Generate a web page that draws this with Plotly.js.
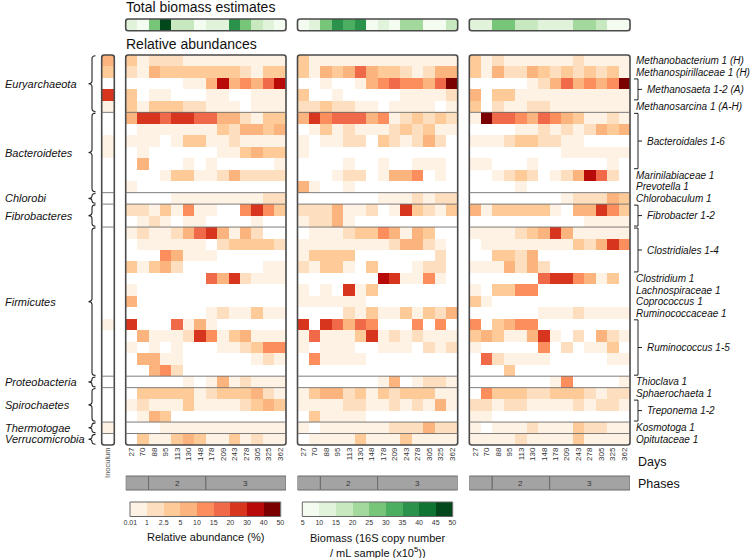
<!DOCTYPE html>
<html>
<head>
<meta charset="utf-8">
<script src="https://cdn.plot.ly/plotly-3.0.1.min.js"></script>
<style>html,body{margin:0;padding:0;background:#fff;}#chart{width:752px;height:558px;}</style>
</head>
<body>
<div id="chart"></div>
<script>
// ---------------- DATA ----------------
const days = [27,70,88,95,113,130,148,178,209,243,278,305,325,362];
const phaseStart = [0,2,7];
const phaseEnd = [1,6,13];
const phaseLabels = ['', '2', '3'];

const taxaLabels = [
  ['Methanobacterium 1 (H)',0,0],['Methanospirillaceae 1 (H)',1,1],['Methanosaeta 1-2 (A)',2,3],
  ['Methanosarcina 1 (A-H)',4,4],['Bacteroidales 1-6',5,9],['Marinilabiaceae 1',10,10],
  ['Prevotella 1',11,11],['Chlorobaculum 1',12,12],['Fibrobacter 1-2',13,14],
  ['Clostridiales 1-4',15,18],['Clostridium 1',19,19],['Lachnospiraceae 1',20,20],
  ['Coprococcus 1',21,21],['Ruminococcaceae 1',22,22],['Ruminococcus 1-5',23,27],
  ['Thioclava 1',28,28],['Sphaerochaeta 1',29,29],['Treponema 1-2',30,31],
  ['Kosmotoga 1',32,32],['Opitutaceae 1',33,33]
];
const phyla = [
  ['Euryarchaeota',0,4],['Bacteroidetes',5,11],['Chlorobi',12,12],['Fibrobacteres',13,14],
  ['Firmicutes',15,27],['Proteobacteria',28,28],['Spirochaetes',29,31],
  ['Thermotogae',32,32],['Verrucomicrobia',33,33]
];

// relative abundance (%) per taxon row (34) in the inoculum
const inoculum = [7,4,0,25,0.5, 0,0,0.5,0.5,0,0,0, 0, 0,0, 0,0,0,0,0,0,0,0,0.5,0,0,0,0, 0, 0,0,0, 0.5,0];

// relative abundance (%) reactor panels: 34 rows x 14 days
const reactor1 = [
[4,0.5,2,2,2,0.5,0.5,0.5,0.5,0.5,0.5,0.5,0.5,0.5],
[2,0.5,7,4,4,4,4,4,4,4,2,0.5,4,4],
[0,0,0,0,0,0.5,0.5,7,35,7,12,7,17,35],
[4,0,0.5,0.5,0,0,0,0.5,0.5,0,0,0.5,0.5,0.5],
[4,0.5,4,4,4,2,2,0.5,0.5,0.5,0,0.5,0.5,0.5],
[7,25,25,17,25,25,17,17,7,7,2,0.5,4,4],
[0,0.5,0.5,0.5,0.5,0.5,0.5,0.5,4,2,7,7,4,7],
[0.5,0.5,0.5,0,0.5,4,4,0.5,0.5,2,0.5,0.5,0.5,0.5],
[0,0.5,0,0,0,0,0,0,0.5,0.5,4,7,4,4],
[0,7,0,0,0,0.5,0,0.5,0,0,0,0,0,0.5],
[0,0,0,0.5,4,4,0.5,0.5,2,7,2,2,2,2],
[0.5,0,0,0,0,0,0,0,0,0,0,0,0,0],
[0,0,0,0,0.5,0.5,0.5,0.5,0.5,0.5,0.5,0.5,2,2],
[2,2,0.5,4,0.5,12,0.5,0.5,0,0,12,25,12,4],
[0,0.5,2,0.5,0,0.5,0.5,0,0,0,0,0.5,0,0],
[0.5,2,0.5,0.5,2,7,17,25,7,0.5,7,2,0,0],
[0,0.5,0.5,0.5,0.5,0.5,0.5,0,2,4,4,4,4,2],
[0,0,0,12,7,0.5,0.5,0.5,0,0,0,0,0,0],
[4,0.5,4,7,2,0,0,0,0,0,0,0,0.5,0.5],
[0,0,0,0,0,0,0,17,7,25,2,0.5,0.5,0.5],
[0.5,0,0,0,0,0,0,0,0,0,0,0,0,0],
[7,0,0,0,0,0,0,0,0,0,0,0,0,0],
[0,0,0,0,0,0,0,0.5,2,0.5,0.5,4,0.5,0.5],
[25,0,0,0,17,0.5,7,0.5,0,0,0,0,0,0],
[0,7,0.5,0.5,0.5,2,25,12,0.5,4,7,0.5,0.5,0.5],
[0.5,0,0.5,0,0.5,0,0,0,0.5,0.5,2,4,12,12],
[0,7,7,0.5,0.5,0,0,0,0,0,0,0.5,2,0.5],
[0,0,7,12,2,0,0,0,0,0,0,0,0,0],
[0,0,0,0,0,0.5,0,0.5,7,0.5,2,0.5,0.5,0.5],
[0,4,4,4,4,4,0.5,2,4,4,4,7,2,0.5],
[0.5,2,0.5,0.5,0.5,4,0.5,0.5,0.5,0.5,2,4,7,4],
[0,0.5,7,4,0,0,0,0,0,0,0,0,0,0],
[0,0,0,0.5,0.5,0.5,0.5,0.5,0.5,0.5,0.5,0.5,0.5,0.5],
[0,4,0.5,0.5,4,7,4,0.5,0.5,4,0.5,2,0.5,0.5]
];
const reactor2 = [
[4,0.5,0.5,0.5,0.5,0.5,0.5,0.5,0.5,0.5,0.5,0.5,0.5,0.5],
[4,0.5,7,4,7,17,7,4,4,2,0.5,2,7,7],
[0,0,0.5,0,0,0.5,7,12,17,12,12,7,17,45],
[4,0,0,0.5,0,0,0,0,0,0.5,0.5,0.5,0.5,2],
[2,2,4,2,2,0.5,0.5,0,0.5,0.5,0.5,0.5,0,0.5],
[7,25,12,17,17,17,7,12,0.5,2,4,2,4,2],
[0,0.5,4,0.5,2,0.5,0.5,0.5,2,4,2,4,0.5,0.5],
[0.5,0,0.5,0.5,2,2,0,4,2,0.5,2,7,2,0],
[0.5,0,0,0,0,0,0,0,0,0,0,0,0,0],
[0,0,0,0,0.5,0,0,0.5,0,0,0.5,0.5,0.5,0],
[0,0,0,0.5,2,2,0,0.5,7,7,12,0,0.5,0],
[7,0.5,0,0,0.5,0,0,0,0,0,0,0,0,0],
[0,0,0,0,0,0,0,0.5,0.5,0.5,2,0.5,2,2],
[2,2,2,7,0.5,0.5,2,0,0.5,25,4,2,0.5,4],
[0.5,2,2,7,0.5,0,0,0,0,0,0,0,0,0],
[0,0.5,0.5,0.5,2,4,4,12,7,0.5,7,4,0,0],
[0.5,0.5,0.5,0.5,0.5,0.5,0.5,0.5,2,7,7,2,0.5,0],
[0.5,4,4,4,4,0,0,0,0,0,0,0,2,0],
[2,0.5,4,4,0.5,0,4,0,0,0,0.5,2,2,0],
[0,0,0,0,0,0,0,35,25,0.5,0.5,12,0.5,0],
[0.5,0,0.5,0,25,0.5,4,0,0,0,0,0,0,0],
[0.5,0.5,0.5,0.5,0.5,0.5,0,0,0,0,0,0,0,0],
[0,0,0,0,2,0.5,4,0.5,0.5,4,0.5,4,2,7],
[25,0,25,17,7,17,12,0,0,0,12,0,12,0],
[0.5,17,0.5,0.5,0.5,4,25,0.5,2,0.5,2,0.5,0.5,0.5],
[0.5,0,0.5,0.5,0.5,0,0,0.5,0.5,0.5,0,2,0.5,2],
[0,12,0.5,0.5,0.5,0.5,0,0,0,0,0,0,0,0],
[0,0,0,0,0,0,0,0,0,0,0,0,0,0],
[0,0,0,0,0,0,0,0.5,7,0,0.5,2,2,0.5],
[0.5,4,7,7,2,4,0.5,4,2,4,4,4,0.5,0.5],
[0.5,0.5,0.5,0.5,2,2,0.5,0.5,2,0.5,2,0.5,7,0.5],
[0,4,0.5,0.5,0.5,0.5,0,0,0,0,0,0,0,0],
[0.5,0,0.5,0.5,0.5,0.5,0.5,0.5,2,2,2,7,2,2],
[0,0.5,0.5,0.5,0.5,4,0.5,0.5,0.5,4,0.5,0.5,0.5,0.5]
];
const reactor3 = [
[4,0.5,2,0.5,0.5,0.5,0.5,0.5,0.5,2,0.5,0.5,0.5,0.5],
[4,0.5,7,2,2,7,4,2,4,2,4,2,4,0.5],
[0,0,0,0,0,0.5,2,7,17,7,12,7,12,45],
[7,0,4,4,0.5,0.5,0.5,0.5,0.5,0.5,0.5,0.5,0.5,0.5],
[4,0,2,0.5,0.5,2,2,0.5,0.5,0.5,0.5,0.5,0.5,0.5],
[0.5,45,17,17,12,7,17,12,7,4,0.5,0.5,2,0.5],
[0,0,0,0,0.5,0.5,2,0.5,2,0.5,2,7,4,7],
[0.5,0.5,0.5,2,4,4,2,2,0.5,0.5,0,0,0,0],
[0,0,0,0,0,0,0,0,0.5,0.5,0.5,0.5,0.5,0.5],
[0.5,0.5,0,0,0,0.5,0,0,0,0,0,0,0.5,0],
[0,0,0.5,2,4,2,0,0.5,2,7,35,17,2,0],
[0,0,0,0,0.5,0,0,0,0,0,0,0,0,0],
[0,0,0,0,0,0,0,0,0.5,2,2,2,7,4],
[7,0.5,4,4,4,4,4,0.5,0,7,7,25,12,4],
[0,0,0,0,0,0,0,0,0,0,0.5,0.5,0.5,0.5],
[0.5,0.5,0.5,0.5,2,4,7,25,7,0.5,0.5,0.5,0.5,0.5],
[0,0.5,0.5,0.5,0.5,0.5,0.5,0.5,0.5,4,2,7,25,12],
[0,0,4,4,2,7,0,0,0,0,0,0,0,0],
[0.5,0.5,0.5,7,2,7,2,0,0,0,0,0,0,0],
[0,0,0,0,0,0,17,25,25,12,7,0.5,4,0],
[0.5,0,4,4,12,12,0,0,0,0,0,0,0,0],
[4,0.5,0,0,0,0,0,0,0,0,0,0,0,0],
[0,0,0,0,0,0,0.5,0.5,0.5,2,0.5,0.5,0.5,0.5],
[12,0,4,7,12,12,0,0,0,0,0,0,0,0],
[4,7,4,0.5,0.5,7,25,0.5,0,2,0,7,2,0.5],
[0.5,0,0,0,0,0,12,0,2,0,0.5,0.5,4,0],
[0,17,2,0.5,0.5,0.5,0.5,0,0,0,0,0,0.5,0.5],
[0,0,0,4,0,0,0,0,0,0,0,0,0,0],
[0,0,0,0,0,0,0,0.5,12,0,0,0,0,0.5],
[0,12,4,4,4,2,2,4,4,4,2,0.5,2,2],
[2,2,0.5,2,2,0.5,0.5,0.5,0.5,2,0.5,2,2,0.5],
[0.5,0.5,0,0,0,0,0,0,0,0,0,0,0,0],
[0.5,0,0.5,0.5,0.5,2,0.5,0.5,0.5,4,2,2,0.5,0.5],
[0.5,0.5,0.5,0.5,2,0.5,0.5,0.5,0.5,4,0.5,0.5,0.5,0.5]
];

// biomass (16S copies / mL x10^5) per day
const biomass1 = [12,8,27,47,17,17,8,12,12,37,27,17,12,8];
const biomass2 = [8,12,27,37,32,37,8,12,8,22,22,8,8,17];
const biomass3 = [12,12,27,27,17,17,12,12,12,22,22,17,8,8];

// legends
const abundEdges = [0.01,1,2.5,5,10,15,20,30,40,50];
const abundTickText = ['0.01','1','2.5','5','10','15','20','30','40','50'];
const abundLegendValues = [0.5,2,4,7,12,17,25,35,45];
const abundColors = ['#fef2e4','#fddfbf','#fdca98','#fcb47e','#fb8e5c','#f06a4a','#d8351f','#b80a08','#7a0000'];
const bioEdges = [5,10,15,20,25,30,35,40,45,50];
const bioTickText = ['5','10','15','20','25','30','35','40','45','50'];
const bioLegendValues = [7.5,12.5,17.5,22.5,27.5,32.5,37.5,42.5,47.5];
const bioColors = ['#f4fbf1','#e2f3dc','#c8e9c0','#a3d99d','#77c578','#4cae60','#2a924b','#0f7331','#03471c'];

// ---------------- LAYOUT HELPERS ----------------
const W = 752, H = 558;
const fx = x => x / W;
const fy = y => 1 - y / H;
const TOP = 55, BOT = 445, NR = 34;
const rowH = (BOT - TOP) / NR;
const rowY = r => TOP + r * rowH;
const FONT = 'Liberation Sans, Arial, sans-serif';

const panelsX = [[101.7,114.3],[125.7,286],[297.5,457.7],[469.3,630]];
const stripY = [19, 30.7];

function discreteCS(edges, colors, zmin, zmax, below) {
  const cs = [];
  const n = v => (v - zmin) / (zmax - zmin);
  if (below) { cs.push([0, below]); cs.push([n(edges[0]), below]); }
  for (let i = 0; i < colors.length; i++) {
    cs.push([n(edges[i]), colors[i]]);
    cs.push([n(edges[i+1]), colors[i]]);
  }
  return cs;
}
const abundCS = discreteCS(abundEdges, abundColors, 0, 50, '#ffffff');
const bioCS = discreteCS(bioEdges, bioColors, 5, 50, null);

const rowIdx = inoculum.map((_, i) => i);
const colIdx = days.map((_, i) => i);

const traces = [];
const layout = {
  width: W, height: H, margin: {l:0, r:0, t:0, b:0},
  paper_bgcolor: '#fff', plot_bgcolor: '#fff', showlegend: false,
  font: {family: FONT, color: '#222'},
  shapes: [], annotations: []
};

function hiddenAxis(domain, range, anchor) {
  return {domain, range, anchor, visible: false, fixedrange: true};
}

// inoculum
traces.push({type:'heatmap', z: inoculum.map(v => [v]), x:[0], y: rowIdx, xaxis:'x', yaxis:'y',
  colorscale: abundCS, zmin:0, zmax:50, showscale:false, hoverinfo:'skip'});
layout.xaxis = {domain:[fx(panelsX[0][0]), fx(panelsX[0][1])], range:[-0.5,0.5], anchor:'y',
  tickvals:[0], ticktext:['Inoculum'], tickangle:-90, tickfont:{size:7.5, color:'#555'},
  showgrid:false, zeroline:false, showline:false, ticks:'', fixedrange:true};
layout.yaxis = hiddenAxis([fy(BOT), fy(TOP)], [NR-0.5, -0.5], 'x');

// reactor panels
const reactors = [reactor1, reactor2, reactor3];
const biomasses = [biomass1, biomass2, biomass3];
reactors.forEach((z, i) => {
  const k = i + 2;
  traces.push({type:'heatmap', z, x: colIdx, y: rowIdx, xaxis:'x'+k, yaxis:'y'+k,
    colorscale: abundCS, zmin:0, zmax:50, showscale:false, hoverinfo:'skip'});
  layout['xaxis'+k] = {domain:[fx(panelsX[i+1][0]), fx(panelsX[i+1][1])], range:[-0.5,13.5], anchor:'y'+k,
    tickvals: colIdx, ticktext: days.map(String), tickangle:-90, tickfont:{size:8, color:'#333'},
    showgrid:false, zeroline:false, showline:false, ticks:'', fixedrange:true};
  layout['yaxis'+k] = hiddenAxis([fy(BOT), fy(TOP)], [NR-0.5, -0.5], 'x'+k);
  // biomass strip
  const b = i + 5;
  traces.push({type:'heatmap', z:[biomasses[i]], x: colIdx, y:[0], xaxis:'x'+b, yaxis:'y'+b,
    colorscale: bioCS, zmin:5, zmax:50, showscale:false, hoverinfo:'skip'});
  layout['xaxis'+b] = hiddenAxis([fx(panelsX[i+1][0]), fx(panelsX[i+1][1])], [-0.5,13.5], 'y'+b);
  layout['yaxis'+b] = hiddenAxis([fy(stripY[1]), fy(stripY[0])], [0.5,-0.5], 'x'+b);
});

// legends
const legY = [502, 516.5];
const legends = [
  {vals: abundLegendValues, cs: abundCS, zmin:0, zmax:50, tt: abundTickText, x:[130,280.7]},
  {vals: bioLegendValues, cs: bioCS, zmin:5, zmax:50, tt: bioTickText, x:[302.3,452.7]}
];
legends.forEach((L, i) => {
  const k = i + 8;
  const xi = L.vals.map((_, j) => j);
  traces.push({type:'heatmap', z:[L.vals], x: xi, y:[0], xaxis:'x'+k, yaxis:'y'+k,
    colorscale: L.cs, zmin: L.zmin, zmax: L.zmax, showscale:false, hoverinfo:'skip'});
  layout['xaxis'+k] = {domain:[fx(L.x[0]), fx(L.x[1])], range:[-0.52, L.vals.length-0.48], anchor:'y'+k,
    tickvals: L.tt.map((_, j) => j - 0.5), ticktext: L.tt, tickangle:0, tickfont:{size:7, color:'#333'},
    showgrid:false, zeroline:false, showline:false, ticks:'', fixedrange:true};
  layout['yaxis'+k] = hiddenAxis([fy(legY[1]), fy(legY[0])], [0.5,-0.5], 'x'+k);
  layout.shapes.push({type:'rect', xref:'paper', yref:'paper', x0:fx(L.x[0]), x1:fx(L.x[1]),
    y0:fy(legY[1]), y1:fy(legY[0]), line:{color:'#666', width:1}, fillcolor:'rgba(0,0,0,0)', layer:'above'});
});

// ---------------- SHAPES ----------------
function rrectPath(x0, y0, x1, y1, r) {
  const P = (x, y) => fx(x) + ',' + fy(y);
  return 'M' + P(x0+r,y0) + ' L' + P(x1-r,y0) + ' Q' + P(x1,y0) + ' ' + P(x1,y0+r) +
    ' L' + P(x1,y1-r) + ' Q' + P(x1,y1) + ' ' + P(x1-r,y1) + ' L' + P(x0+r,y1) +
    ' Q' + P(x0,y1) + ' ' + P(x0,y1-r) + ' L' + P(x0,y0+r) + ' Q' + P(x0,y0) + ' ' + P(x0+r,y0) + ' Z';
}
const borderLine = {color:'#4a4a4a', width:1.6};
panelsX.forEach((p, i) => {
  layout.shapes.push({type:'path', xref:'paper', yref:'paper', path: rrectPath(p[0], TOP, p[1], BOT, 2.5),
    line: borderLine, layer:'above'});
  if (i > 0) layout.shapes.push({type:'path', xref:'paper', yref:'paper',
    path: rrectPath(p[0], stripY[0], p[1], stripY[1], 2.5), line: borderLine, layer:'above'});
  // group separators
  phyla.slice(1).forEach(g => {
    layout.shapes.push({type:'line', xref:'paper', yref:'paper', x0:fx(p[0]), x1:fx(p[1]),
      y0:fy(rowY(g[1])), y1:fy(rowY(g[1])), line:{color:'#6e6e6e', width:0.9}, layer:'above'});
  });
});

// left braces + phylum labels
phyla.forEach(g => {
  const y0 = rowY(g[1]) + 0.8, y1 = rowY(g[2] + 1) - 0.8, ym = (y0 + y1) / 2;
  const xv = 92, c = Math.min(3, (y1 - y0) / 4);
  const P = (x, y) => fx(x) + ',' + fy(y);
  const path = 'M' + P(xv+3.5,y0) + ' Q' + P(xv,y0) + ' ' + P(xv,y0+c) + ' L' + P(xv,ym-c) +
    ' Q' + P(xv,ym) + ' ' + P(xv-3.5,ym) + ' Q' + P(xv,ym) + ' ' + P(xv,ym+c) +
    ' L' + P(xv,y1-c) + ' Q' + P(xv,y1) + ' ' + P(xv+3.5,y1);
  layout.shapes.push({type:'path', xref:'paper', yref:'paper', path, line:{color:'#222', width:1.1}});
  layout.annotations.push({xref:'paper', yref:'paper', x:fx(3), y:fy(ym), xanchor:'left', yanchor:'middle',
    text:'<i>' + g[0] + '</i>', showarrow:false, font:{size:11, color:'#111'}});
});

// right labels + brackets
taxaLabels.forEach(t => {
  const y0 = rowY(t[1]), y1 = rowY(t[2] + 1), ym = (y0 + y1) / 2;
  let xt = 633.5;
  if (t[2] > t[1]) {
    const P = (x, y) => fx(x) + ',' + fy(y);
    const path = 'M' + P(634,y0+1) + ' L' + P(638,y0+1) + ' L' + P(638,y1-1) + ' L' + P(634,y1-1) +
      ' M' + P(638,ym) + ' L' + P(642,ym);
    layout.shapes.push({type:'path', xref:'paper', yref:'paper', path, line:{color:'#222', width:1}});
    xt = 645;
  }
  layout.annotations.push({xref:'paper', yref:'paper', x:fx(xt), y:fy(ym), xanchor:'left', yanchor:'middle',
    text:'<i>' + t[0] + '</i>', showarrow:false, font:{size:10, color:'#111'}});
});

// phases
const phY = [476, 490];
[2,3,4].forEach(k => {
  phaseStart.forEach((s, j) => {
    layout.shapes.push({type:'rect', xref:'x'+k, yref:'paper', x0:s-0.5, x1:phaseEnd[j]+0.5,
      y0:fy(phY[1]), y1:fy(phY[0]), fillcolor:'#a3a3a3', line:{color:'#6a6a6a', width:1}});
    if (phaseLabels[j]) layout.annotations.push({xref:'x'+k, yref:'paper', x:(s+phaseEnd[j])/2, y:fy((phY[0]+phY[1])/2),
      text: phaseLabels[j], showarrow:false, font:{size:8, color:'#333'}, xanchor:'center', yanchor:'middle'});
  });
});

// texts
const txt = (x, y, text, size, anchor, extra) => layout.annotations.push(Object.assign({xref:'paper', yref:'paper',
  x:fx(x), y:fy(y), text, showarrow:false, xanchor:anchor || 'left', yanchor:'middle', font:{size, color:'#111'}}, extra || {}));
txt(124, 7.5, 'Total biomass estimates', 14);
txt(124, 44, 'Relative abundances', 14);
txt(636, 462, 'Days', 12.5);
txt(636, 484, 'Phases', 12.5);
txt(205.3, 537, 'Relative abundance (%)', 11, 'center');
txt(377.5, 538, 'Biomass (16S copy number', 11, 'center');
txt(377.5, 551.5, '/ mL sample (x10<sup>5</sup>))', 11, 'center');

Plotly.newPlot('chart', traces, layout, {staticPlot:true, displayModeBar:false});
</script>
</body>
</html>
